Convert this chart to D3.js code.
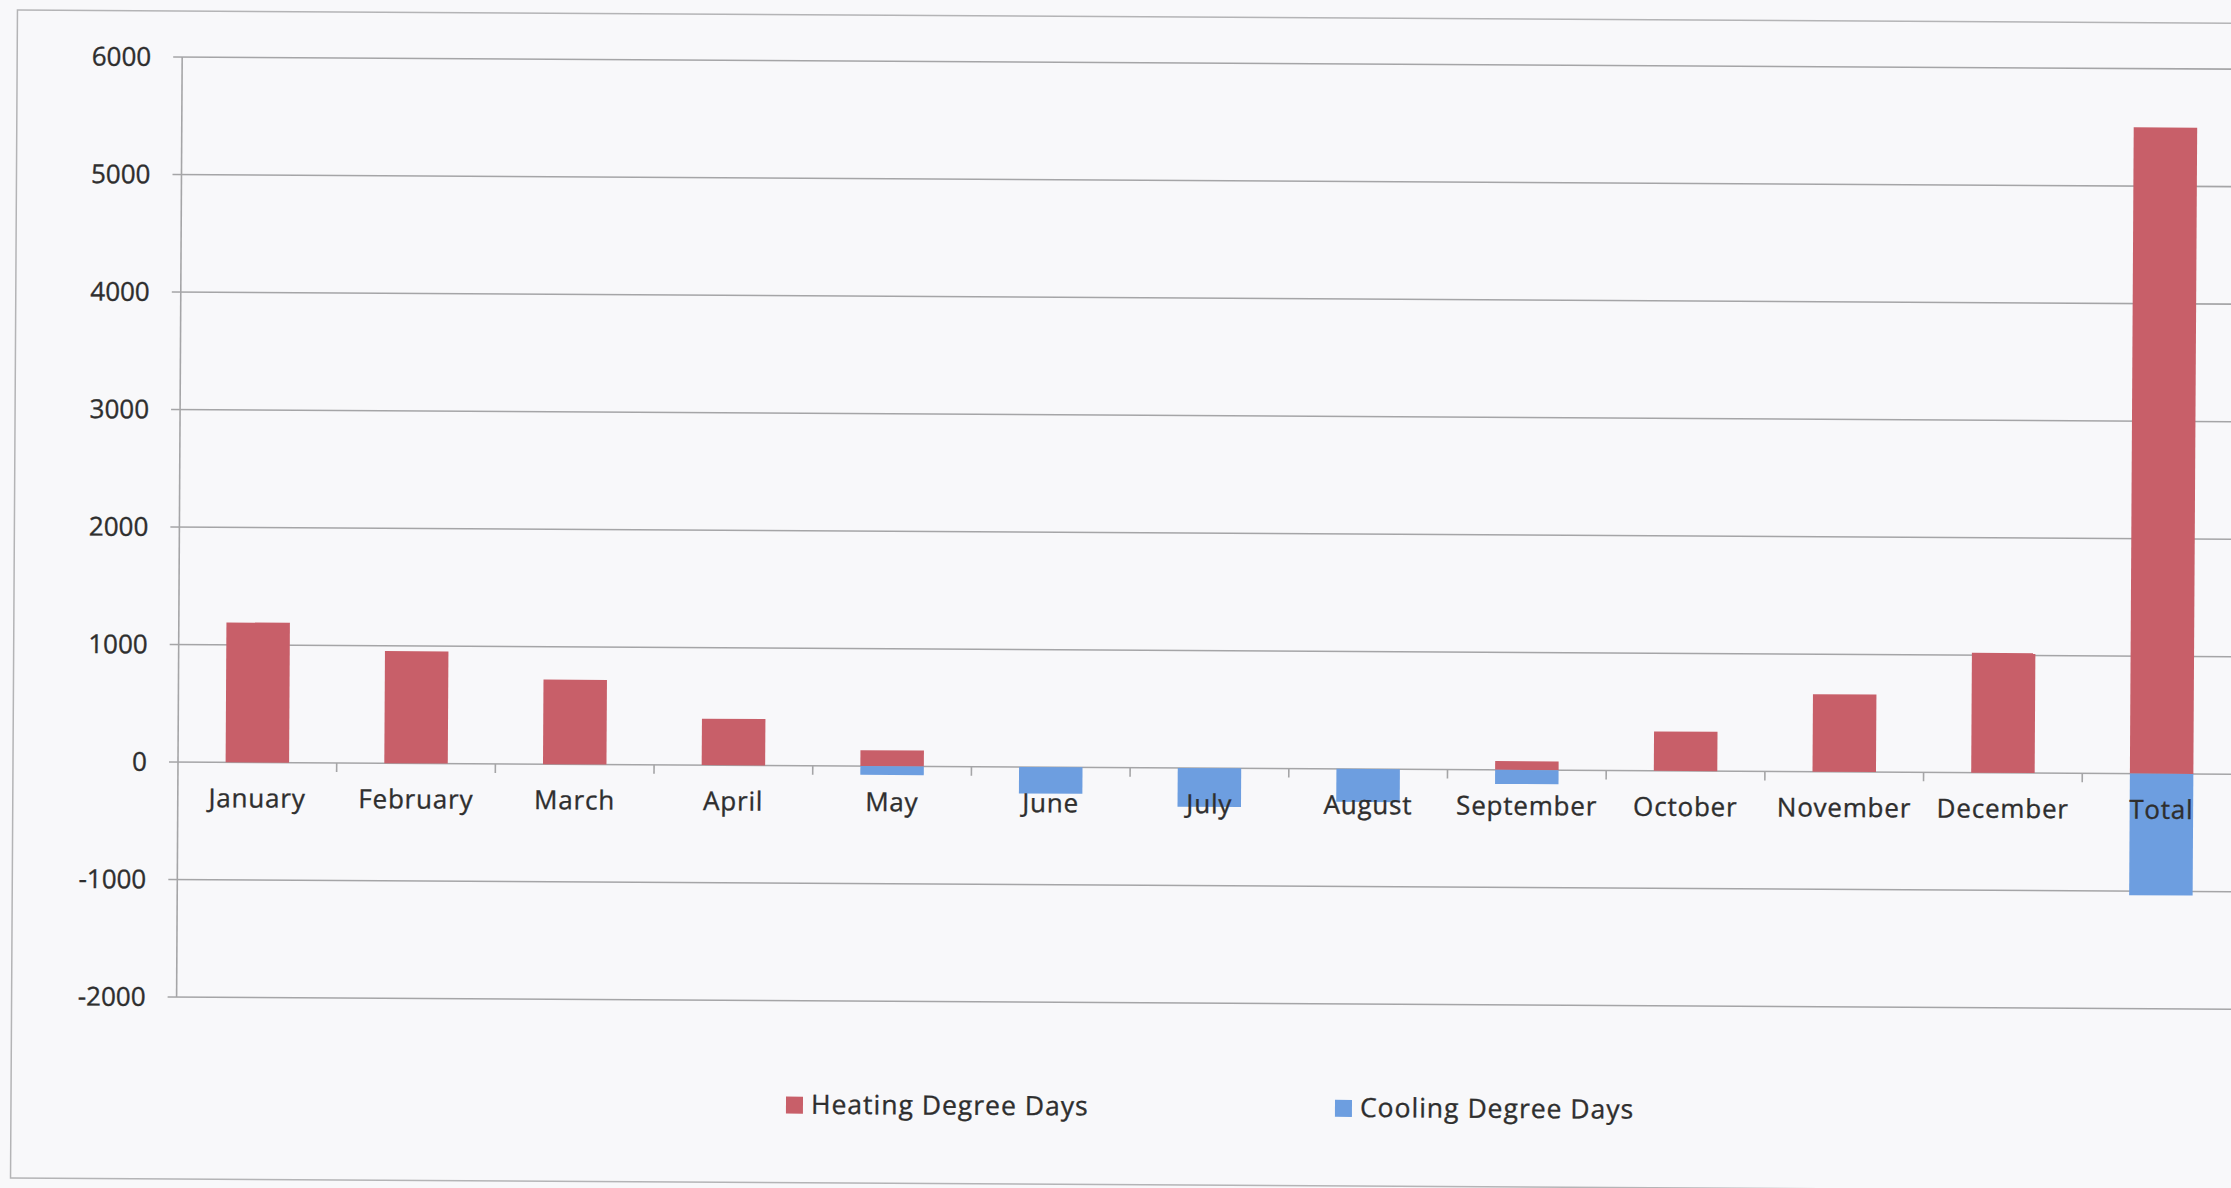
<!DOCTYPE html>
<html>
<head>
<meta charset="utf-8">
<script src="https://cdn.jsdelivr.net/npm/d3@7"></script>
<style>
  html, body { margin: 0; padding: 0; background: #f8f8fa; overflow: hidden; }
  svg { display: block; }
  text { font-family: "Open Sans", sans-serif; fill: #2e2e2e; stroke: #2e2e2e; stroke-width: 0.35px; }
</style>
</head>
<body>
<script>
            var width = 2231, height = 1188;

            // categories and series
            const categories = ["January", "February", "March", "April", "May", "June",
                                "July", "August", "September", "October", "November", "December", "Total"];
            const heating = [1190, 955, 720, 395, 135, 0, 0, 0, 75, 335, 660, 1020, 5500];
            const cooling = [0, 0, 0, 0, -75, -225, -330, -280, -120, 0, 0, 0, -1035];
            const yTicks = [6000, 5000, 4000, 3000, 2000, 1000, 0, -1000, -2000];
            const seriesNames = ["Heating Degree Days", "Cooling Degree Days"];
            const seriesColors = ["#c85f69", "#6d9ee0"];

            // plot frame (the scan is tilted a little, we rotate round the origin of the axes)
            const plotLeft = 178, plotRight = 2241, plotTop = 57, zeroY = 762;
            const tilt = 0.34;

            var svg = d3.select('body').append('svg')
                .attr('width', width)
                .attr('height', height);

            const g = svg.append('g')
                .attr('transform', 'rotate(' + tilt + ',' + plotLeft + ',' + zeroY + ')');

            // chart border
            g.append('rect')
                .attr('x', 13).attr('y', 11)
                .attr('width', 2260).attr('height', 1168)
                .attr('fill', 'none')
                .attr('stroke', '#b4b4b6')
                .attr('stroke-width', 1.5);

            var y = d3.scaleLinear()
                .domain([0, 6000])
                .range([zeroY, plotTop]);

            var x = d3.scaleBand()
                .domain(categories)
                .range([plotLeft, plotRight])
                .paddingInner(0.6)
                .paddingOuter(0.3);

            const step = x.step();

            // gridlines, they start a little left of the axis (tick marks)
            g.append('g')
                .selectAll('line')
                .data(yTicks)
                .join('line')
                .attr('x1', plotLeft - 9)
                .attr('x2', plotRight)
                .attr('y1', d => y(d))
                .attr('y2', d => y(d))
                .attr('stroke', '#a5a5a7')
                .attr('stroke-width', 1.6);

            // y axis labels
            g.append('g')
                .selectAll('text')
                .data(yTicks)
                .join('text')
                .attr('x', 147)
                .attr('y', d => y(d))
                .attr('dy', '0.35em')
                .attr('text-anchor', 'end')
                .style('font-size', '26px')
                .text(d => d);

            // y axis line
            g.append('line')
                .attr('x1', plotLeft).attr('x2', plotLeft)
                .attr('y1', y(6000)).attr('y2', y(-2000))
                .attr('stroke', '#a5a5a7')
                .attr('stroke-width', 1.6);

            // bars
            const gBars = g.append('g');
            gBars.selectAll('rect.heat')
                .data(heating)
                .join('rect')
                .attr('class', 'heat')
                .attr('x', (d, i) => x(categories[i]))
                .attr('width', x.bandwidth())
                .attr('y', d => y(Math.max(d, 0)))
                .attr('height', d => Math.abs(y(d) - y(0)))
                .attr('fill', seriesColors[0]);

            gBars.selectAll('rect.cool')
                .data(cooling)
                .join('rect')
                .attr('class', 'cool')
                .attr('x', (d, i) => x(categories[i]))
                .attr('width', x.bandwidth())
                .attr('y', d => y(Math.max(d, 0)))
                .attr('height', d => Math.abs(y(d) - y(0)))
                .attr('fill', seriesColors[1]);

            // category tick marks on the zero line
            g.append('g')
                .selectAll('line')
                .data(d3.range(1, categories.length))
                .join('line')
                .attr('x1', i => plotLeft + i * step)
                .attr('x2', i => plotLeft + i * step)
                .attr('y1', zeroY)
                .attr('y2', zeroY + 9)
                .attr('stroke', '#a5a5a7')
                .attr('stroke-width', 1.6);

            // category labels
            g.append('g')
                .selectAll('text')
                .data(categories)
                .join('text')
                .attr('x', d => x(d) + x.bandwidth() / 2)
                .attr('y', zeroY + 45)
                .attr('text-anchor', 'middle')
                .style('font-size', '26px')
                .style('letter-spacing', '0.8px')
                .text(d => d);

            // legend
            const legendX = [788, 1337];
            const legend = g.append('g')
                .selectAll('g')
                .data(seriesNames)
                .join('g')
                .attr('transform', (d, i) => 'translate(' + legendX[i] + ',1093)');

            legend.append('rect')
                .attr('width', 17).attr('height', 17)
                .attr('fill', (d, i) => seriesColors[i]);

            legend.append('text')
                .attr('x', 25)
                .attr('y', 17)
                .style('font-size', '26.5px')
                .style('letter-spacing', '1px')
                .text(d => d);
</script>
</body>
</html>
